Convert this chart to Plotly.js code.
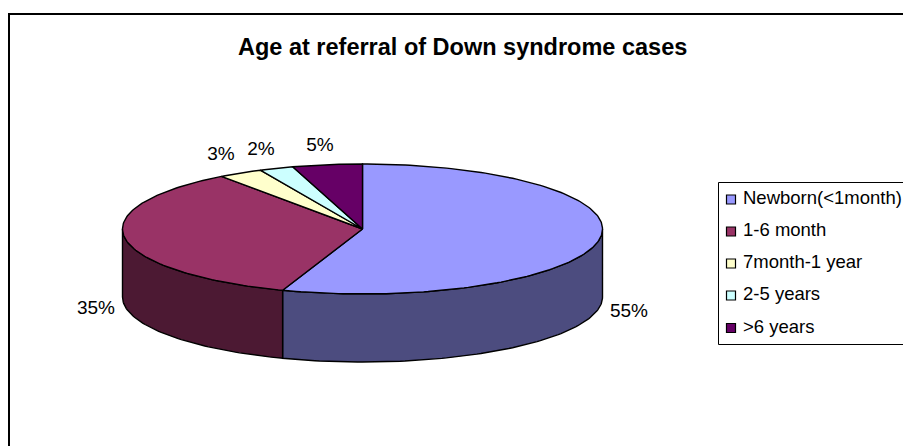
<!DOCTYPE html>
<html><head><meta charset="utf-8">
<script src="https://cdn.plot.ly/plotly-3.0.1.min.js"></script>
<style>html,body{margin:0;padding:0;background:#fff;overflow:hidden}</style>
</head><body><div id="chart" style="width:903px;height:446px"></div>
<script>
const categories = ["Newborn(<1month)", "1-6 month", "7month-1 year", "2-5 years", ">6 years"];
const values = [55.4, 34.6, 3, 2.3, 4.7];
const topColors = ["#9999FF", "#993366", "#FFFFCC", "#CCFFFF", "#660066"];
const sideColors = ["#4C4C7F", "#4C1933", "#7F7F66", "#667F7F", "#330033"];
const labelX = [629, 96, 221, 261, 320];
const labelY = [312, 309, 155, 150, 146];
const legendY = [199.5, 231.5, 263.5, 295.5, 328];
const FONT = "Liberation Sans, Arial, sans-serif";
const cx = 362.5, cy = 229, rx = 240, ry = 65, depth = 68;

const total = values.reduce((a, b) => a + b, 0);
const pt = (a, dz) => [cx + rx * Math.sin(a), cy - ry * Math.cos(a) + (dz || 0)];
function arc(a0, a1, dz) {
  const n = Math.max(2, Math.ceil((a1 - a0) / 0.02)), out = [];
  for (let i = 0; i <= n; i++) out.push(pt(a0 + (a1 - a0) * i / n, dz));
  return out;
}
const traces = [];
function poly(pts, fill) {
  traces.push({type: "scatter", mode: "lines", x: pts.map(p => p[0]), y: pts.map(p => p[1]),
    fill: "toself", fillcolor: fill, line: {color: "#000", width: 1.4}, hoverinfo: "skip", showlegend: false});
}
const spans = [];
let acc = 0;
values.forEach(v => { const a0 = acc / total * 2 * Math.PI; acc += v; spans.push([a0, acc / total * 2 * Math.PI]); });
// front walls (visible half of the rim)
spans.forEach(([a0, a1], i) => {
  const s = Math.max(a0, Math.PI / 2), e = Math.min(a1, 3 * Math.PI / 2);
  if (e > s) poly(arc(s, e, 0).concat(arc(s, e, depth).reverse()).concat([pt(s, 0)]), sideColors[i]);
});
// top faces
spans.forEach(([a0, a1], i) => poly([[cx, cy]].concat(arc(a0, a1, 0)).concat([[cx, cy]]), topColors[i]));
// percentage labels
traces.push({type: "scatter", mode: "text", x: labelX, y: labelY,
  text: values.map(v => Math.round(v / total * 100) + "%"), textposition: "middle center",
  textfont: {family: FONT, size: 19, color: "#000"}, hoverinfo: "skip", showlegend: false, cliponaxis: false});
// legend swatches and labels
traces.push({type: "scatter", mode: "markers", x: categories.map(() => 731), y: legendY,
  marker: {symbol: "square", size: 9, color: topColors, line: {color: "#000", width: 1.2}},
  hoverinfo: "skip", showlegend: false, cliponaxis: false});
traces.push({type: "scatter", mode: "text", x: categories.map(() => 743), y: legendY,
  text: categories, textposition: "middle right",
  textfont: {family: FONT, size: 18.5, color: "#000"},
  hoverinfo: "skip", showlegend: false, cliponaxis: false});

const layout = {
  width: 903, height: 446, margin: {l: 0, r: 0, t: 0, b: 0}, showlegend: false,
  paper_bgcolor: "#fff", plot_bgcolor: "#fff",
  xaxis: {range: [0, 903], visible: false, fixedrange: true},
  yaxis: {range: [446, 0], visible: false, fixedrange: true},
  shapes: [
    {type: "rect", xref: "x", yref: "y", x0: 9, y0: 14, x1: 1000, y1: 600, line: {color: "#000", width: 2}, layer: "below"},
    {type: "rect", xref: "x", yref: "y", x0: 718.5, y0: 182.5, x1: 1000, y1: 344.5, line: {color: "#000", width: 1}, layer: "below"}
  ],
  annotations: [{xref: "x", yref: "y", x: 462, y: 47, showarrow: false, text: "<b>Age at referral of Down syndrome cases</b>",
    font: {family: FONT, size: 23.5, color: "#000"}, xanchor: "center", yanchor: "middle"}]
};
Plotly.newPlot("chart", traces, layout, {displayModeBar: false, staticPlot: true});
</script></body></html>
